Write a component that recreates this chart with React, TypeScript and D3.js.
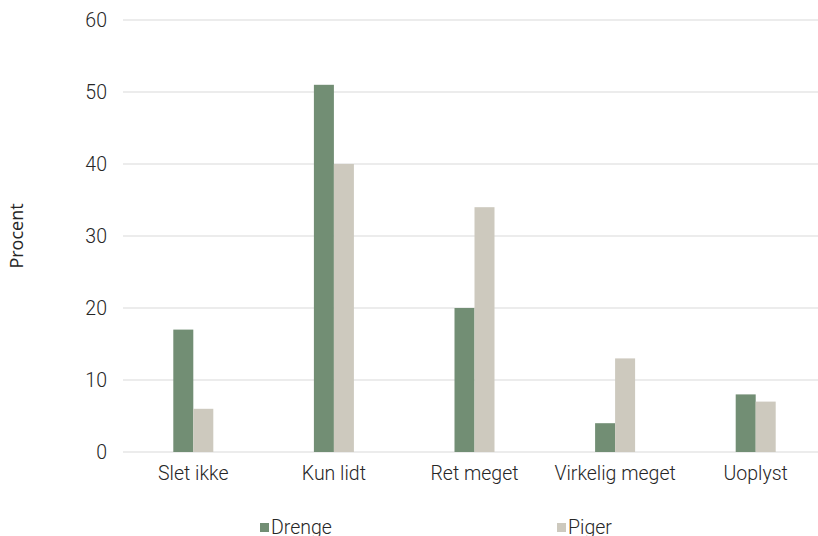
import React from "react";
import * as d3 from "d3";

const categories = ["Slet ikke", "Kun lidt", "Ret meget", "Virkelig meget", "Uoplyst"];
const drenge = [17, 51, 20, 4, 8];
const piger = [6, 40, 34, 13, 7];
const seriesNames = ["Drenge", "Piger"];
const yTicks = [0, 10, 20, 30, 40, 50, 60];

const W = 818;
const H = 536;
const FONT = "Roboto, 'Liberation Sans', sans-serif";
const TEXT = "#262626";
const FS = 19.5;
const colors = ["#728e74", "#cdc9be"];

export default function App() {
  const x = d3.scaleBand<string>().domain(categories).range([123, 826]).paddingInner(0).paddingOuter(0);
  const y = d3.scaleLinear().domain([0, 60]).range([452, 20]);
  const barW = 20;
  const series = [drenge, piger];
  return (
    <svg width={W} height={H} style={{ position: "absolute", left: 0, top: 0, background: "#fff" }}>
      {yTicks.map((t) => (
        <g key={t}>
          <line x1={123} x2={W} y1={y(t)} y2={y(t)} stroke="#d9d9d9" strokeWidth={1} />
          <text x={107} y={y(t)} dy="0.36em" textAnchor="end" fontFamily={FONT} fontWeight={300} fontSize={FS} fill={TEXT}>
            {t}
          </text>
        </g>
      ))}
      {series.map((vals, si) =>
        vals.map((v, i) => {
          const c = x(categories[i])! + x.bandwidth() / 2;
          return (
            <rect
              key={`${si}-${i}`}
              x={c - barW + si * barW}
              y={y(v)}
              width={barW}
              height={y(0) - y(v)}
              fill={colors[si]}
            />
          );
        })
      )}
      {categories.map((c) => (
        <text key={c} x={x(c)! + x.bandwidth() / 2} y={480} textAnchor="middle" fontFamily={FONT} fontWeight={300} fontSize={FS} fill={TEXT}>
          {c}
        </text>
      ))}
      <text
        transform={`translate(23,236) rotate(-90)`}
        textAnchor="middle"
        fontFamily="'Open Sans', 'DejaVu Sans', sans-serif"
        fontSize={18}
        fill={TEXT}
      >
        Procent
      </text>
      {seriesNames.map((s, i) => {
        const lx = [260, 557][i];
        return (
          <g key={s}>
            <rect x={lx} y={523} width={9} height={9} fill={colors[i]} />
            <text x={lx + 11} y={534} fontFamily={FONT} fontWeight={300} fontSize={FS} fill={TEXT}>
              {s}
            </text>
          </g>
        );
      })}
    </svg>
  );
}
